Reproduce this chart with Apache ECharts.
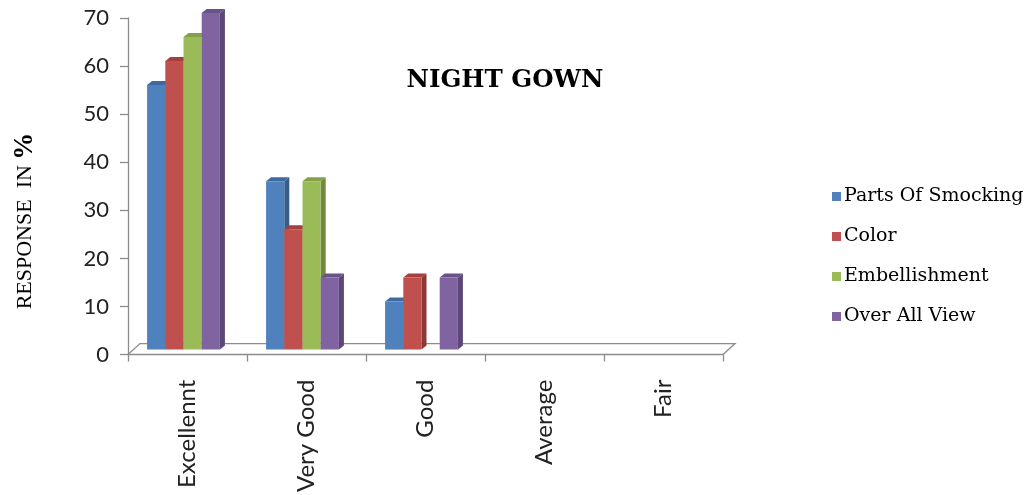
<!DOCTYPE html>
<html>
<head>
<meta charset="utf-8">
<script src="https://cdn.jsdelivr.net/npm/echarts@6/dist/echarts.min.js"></script>
<style>html,body{margin:0;padding:0;background:#fff;}#c{width:1027px;height:495px;}</style>
</head>
<body>
<div id="c"></div>
<script>
var categories = ['Excellennt', 'Very Good', 'Good', 'Average', 'Fair'];
var seriesNames = ['Parts Of Smocking', 'Color', 'Embellishment', 'Over All View'];
var partsOfSmocking = [55, 35, 10, 0, 0];
var color = [60, 25, 15, 0, 0];
var embellishment = [65, 35, 0, 0, 0];
var overAllView = [70, 15, 15, 0, 0];
var yTicks = [0, 10, 20, 30, 40, 50, 60, 70];

var seriesValues = [partsOfSmocking, color, embellishment, overAllView];
var frontColors = ['#4F81BD', '#C0504D', '#9BBB59', '#8064A2'];
var sideColors = ['#385D8A', '#8C3836', '#71893F', '#5C4776'];
var topColors = ['#3E6AA0', '#A33F3C', '#84A048', '#6A5189'];

function makeRender(si) {
  return function (params, api) {
    var cat = api.value(0), val = api.value(1);
    if (!val) return null;
    var top = api.coord([cat, val]);
    var base = api.coord([cat, 0]);
    var cw = api.size([1, 0])[0];
    var bw = cw * 0.153;
    var shiftX = -4, shiftY = -5;
    var x0 = top[0] + (si - 2) * bw + shiftX;
    var yTop = top[1] + shiftY;
    var yBot = base[1] + shiftY;
    var dx = 5, dy = -4;
    var front = [[x0, yTop], [x0 + bw, yTop], [x0 + bw, yBot], [x0, yBot]];
    var side = [[x0 + bw, yTop], [x0 + bw + dx, yTop + dy], [x0 + bw + dx, yBot + dy], [x0 + bw, yBot]];
    var topF = [[x0, yTop], [x0 + dx, yTop + dy], [x0 + bw + dx, yTop + dy], [x0 + bw, yTop]];
    return {
      type: 'group',
      children: [
        {type: 'polygon', shape: {points: side}, style: {fill: sideColors[si]}},
        {type: 'polygon', shape: {points: topF}, style: {fill: topColors[si]}},
        {type: 'polygon', shape: {points: front}, style: {fill: frontColors[si]}}
      ]
    };
  };
}

function floorRender(params, api) {
  var cs = params.coordSys;
  var x1 = cs.x, x2 = cs.x + cs.width, y = cs.y + cs.height;
  var ddx = 12, ddy = -11;
  return {
    type: 'polyline',
    shape: {points: [[x1, y], [x1 + ddx, y + ddy], [x2 + ddx, y + ddy], [x2, y]]},
    style: {stroke: '#8C8C8C', lineWidth: 1.3, fill: null}
  };
}

var series = [{
  type: 'custom',
  name: 'floor',
  renderItem: floorRender,
  data: [[0, 0]],
  silent: true,
  z: 1
}];
seriesValues.forEach(function (vals, si) {
  series.push({
    type: 'custom',
    name: seriesNames[si],
    renderItem: makeRender(si),
    itemStyle: {color: frontColors[si]},
    encode: {x: 0, y: 1},
    data: vals.map(function (v, i) { return [i, v]; }),
    z: 2
  });
});

var chart = echarts.init(document.getElementById('c'), null, {renderer: 'canvas'});
chart.setOption({
  animation: false,
  backgroundColor: '#ffffff',
  title: {
    text: 'NIGHT GOWN',
    left: 500, top: 63, textAlign: 'center',
    textStyle: {fontFamily: 'DejaVu Serif', fontWeight: 'bold', fontSize: 24.5, color: '#000'}
  },
  graphic: [{
    type: 'text',
    x: 25, y: 221,
    rotation: Math.PI / 2,
    style: {
      text: '{a|RESPONSE  IN }{b|%}',
      align: 'center', verticalAlign: 'middle',
      rich: {
        a: {fontFamily: 'Liberation Serif', fontSize: 22, fill: '#000'},
        b: {fontFamily: 'Liberation Serif', fontSize: 27, fontWeight: 'bold', fill: '#000'}
      }
    }
  }],
  legend: {
    data: seriesNames,
    orient: 'vertical',
    left: 827, top: 182,
    itemWidth: 9, itemHeight: 9, itemGap: 21,
    icon: 'rect',
    textStyle: {fontFamily: 'DejaVu Serif', fontSize: 19, lineHeight: 18, color: '#000', padding: [0, 0, 0, -2]}
  },
  grid: {left: 128, right: 304, top: 18, bottom: 140},
  xAxis: {
    type: 'category',
    data: categories,
    boundaryGap: true,
    axisLine: {lineStyle: {color: '#8C8C8C', width: 1.3}},
    axisTick: {show: true, length: 7, lineStyle: {color: '#8C8C8C', width: 1.3}},
    axisLabel: {rotate: 90, margin: 25, fontFamily: 'Lato', fontSize: 24, color: '#222'}
  },
  yAxis: {
    type: 'value',
    min: yTicks[0], max: yTicks[yTicks.length - 1], interval: 10,
    axisLine: {show: true, lineStyle: {color: '#8C8C8C', width: 1.3}},
    axisTick: {show: true, length: 8, lineStyle: {color: '#8C8C8C', width: 1.3}},
    axisLabel: {margin: 19, fontFamily: 'Lato', fontSize: 22, color: '#222'},
    splitLine: {show: false}
  },
  series: series
});
</script>
</body>
</html>
